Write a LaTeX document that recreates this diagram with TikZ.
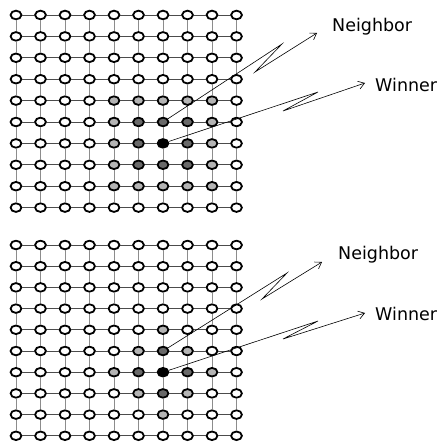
\documentclass[tikz,border=0pt]{standalone}
\usepackage{fontspec}
\setmainfont{DejaVu Sans}
\usetikzlibrary{
    arrows.meta,
    shapes.geometric
}
\definecolor{gris}{RGB}{105,105,105}
\definecolor{grisclair}{RGB}{180,180,180}

\begin{document}
\begin{tikzpicture}[x=1pt,y=-1pt,
    neurone/.style={ellipse,draw=black,line width=1.8pt,fill=white,
        minimum width=10.8pt,minimum height=8.6pt,inner sep=0pt},
    lienh/.style={black!70,line width=0.7pt},
    lienv/.style={black!45,line width=1pt},
    fleche/.style={-{Straight Barb[length=6pt,width=8pt]},black,line width=0.6pt},
    etiquette/.style={anchor=west,inner sep=0pt,
        font=\fontsize{17.5}{20}\selectfont}]

\useasboundingbox (0,0) rectangle (436,443);

% Grille du haut : voisinage carre
\foreach \r in {0,...,9} {
    \foreach \c in {0,...,9} {
        \pgfmathtruncatemacro\d{max(abs(\r-6),abs(\c-6))}
        \ifcase\d \def\teinte{black}\or \def\teinte{gris}\or \def\teinte{grisclair}\else \def\teinte{white}\fi
        \node[neurone,fill=\teinte] (h-\r-\c) at ({16+24.5*\c},{15+21.4*\r}) {};
    }
}

% Grille du bas : voisinage en losange
\foreach \r in {0,...,9} {
    \foreach \c in {0,...,9} {
        \pgfmathtruncatemacro\d{abs(\r-6)+abs(\c-6)}
        \ifcase\d \def\teinte{black}\or \def\teinte{gris}\or \def\teinte{grisclair}\else \def\teinte{white}\fi
        \node[neurone,fill=\teinte] (b-\r-\c) at ({16+24.5*\c},{245+21.2*\r}) {};
    }
}

% Liaisons entre neurones voisins
\foreach \g in {h,b} {
    \foreach \r in {0,...,9} {
        \foreach \c [count=\cn from 1] in {0,...,8} {
            \draw[lienh] (\g-\r-\c) -- (\g-\r-\cn);
            \draw[lienv] (\g-\c-\r) -- (\g-\cn-\r);
        }
    }
}

% Fleches du haut
\coordinate (hv1) at (282,44);
\coordinate (hv2) at (255,72);
\coordinate (hv3) at (317,33);
\draw[fleche] (h-5-6) -- (hv1) -- (hv2) -- (hv3);
\node[etiquette] (hvoisin) at (332,27) {Neighbor};

\coordinate (hg1) at (318,92);
\coordinate (hg2) at (283,111);
\coordinate (hg3) at (365,83);
\draw[fleche] (h-6-6) -- (hg1) -- (hg2) -- (hg3);
\node[etiquette] (hgagnant) at (375,85) {Winner};

% Fleches du bas
\coordinate (bv1) at (287,273);
\coordinate (bv2) at (262,299);
\coordinate (bv3) at (322,262);
\draw[fleche] (b-5-6) -- (bv1) -- (bv2) -- (bv3);
\node[etiquette] (bvoisin) at (338,255) {Neighbor};

\coordinate (bg1) at (318,321);
\coordinate (bg2) at (283,339);
\coordinate (bg3) at (365,313);
\draw[fleche] (b-6-6) -- (bg1) -- (bg2) -- (bg3);
\node[etiquette] (bgagnant) at (375,314) {Winner};

\end{tikzpicture}
\end{document}
